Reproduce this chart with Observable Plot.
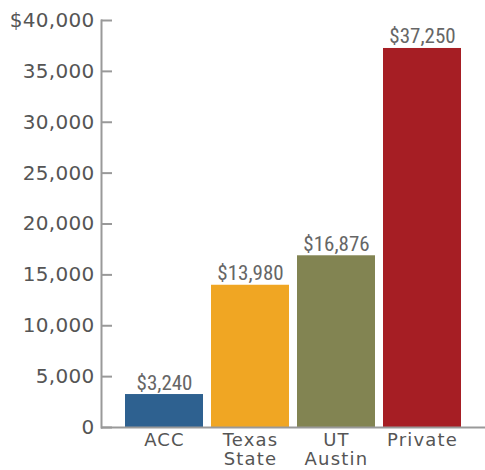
<!DOCTYPE html>
<html>
<head>
<meta charset="utf-8">
<script src="https://cdn.jsdelivr.net/npm/d3@7"></script>
<script src="https://cdn.jsdelivr.net/npm/@observablehq/plot@0.6"></script>
<style>
  html, body { margin: 0; padding: 0; background: #fff; }
  #chart svg { display: block; }
  #chart g[aria-label="y-axis tick label"] text { letter-spacing: 0.3px; }
  #chart g[aria-label="x-axis tick label"] text { letter-spacing: 1.2px; }
</style>
</head>
<body>
<div id="chart"></div>
<script>
const categories = ["ACC", "Texas\nState", "UT\nAustin", "Private"];
const values = [3240, 13980, 16876, 37250];
const colors = ["#2e6190", "#f0a623", "#828452", "#a61e24"];
const yTicks = [0, 5000, 10000, 15000, 20000, 25000, 30000, 35000, 40000];

const data = categories.map((c, i) => ({category: c, value: values[i], color: colors[i]}));
const fmtTick = d => d === 40000 ? "$" + d3.format(",")(d) : d3.format(",")(d);
const fmtVal = d => "$" + d3.format(",")(d);

const chart = Plot.plot({
  width: 485,
  height: 470,
  marginLeft: 101,
  marginRight: 0,
  marginTop: 20,
  marginBottom: 43,
  style: {fontFamily: "'DejaVu Sans', 'Liberation Sans', sans-serif", background: "#fff"},
  x: {domain: categories, paddingInner: 0.092, paddingOuter: 0.253, label: null},
  y: {domain: [0, 40000], label: null},
  marks: [
    Plot.barY(data, {x: "category", y: "value", fill: "color"}),
    Plot.axisY({ticks: yTicks, tickSize: -11, text: null, stroke: "#999", strokeWidth: 2}),
    Plot.axisY({ticks: yTicks, tickSize: 0, tickPadding: 7, tickFormat: fmtTick, fontSize: 20, fill: "#555", label: null}),
    Plot.frame({anchor: "left", stroke: "#999", strokeWidth: 2}),
    Plot.ruleY([0], {stroke: "#999", strokeWidth: 2}),
    Plot.axisX({tickSize: 0, tickPadding: 5, fontSize: 18, lineHeight: 1.05, fill: "#555", lineAnchor: "top", label: null}),
    Plot.text(data, {x: "category", y: "value", text: d => fmtVal(d.value), dy: -5, lineAnchor: "bottom",
      fontSize: 21, fill: "#666", fontFamily: "'Liberation Sans Narrow', 'Roboto Condensed', 'Liberation Sans', sans-serif"})
  ]
});
document.getElementById("chart").appendChild(chart);
</script>
</body>
</html>
